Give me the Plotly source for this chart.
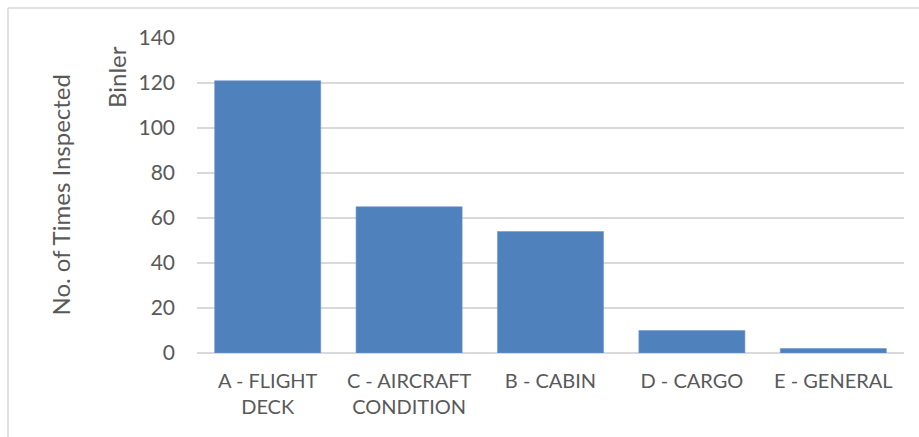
import plotly.graph_objects as go

categories = ["A - FLIGHT<br>DECK", "C - AIRCRAFT<br>CONDITION", "B - CABIN", "D - CARGO", "E - GENERAL"]
inspections = [121, 65, 54, 10, 2]
y_ticks = [0, 20, 40, 60, 80, 100, 120, 140]

W, H = 919, 437
L, R, T, B = 197, 15, 38, 84
pw, ph = W - L - R, H - T - B


def px_x(x):
    return (x - L) / pw


def px_y(y):
    return (H - B - y) / ph


text_color = "#595959"
font_family = "Lato, Calibri, Carlito, sans-serif"

fig = go.Figure(
    go.Bar(
        x=categories,
        y=inspections,
        marker=dict(color="#4F81BD", line=dict(color="#6E97CC", width=0.6)),
    )
)

fig.update_layout(
    width=W,
    height=H,
    margin=dict(l=L, r=R, t=T, b=B),
    paper_bgcolor="white",
    plot_bgcolor="white",
    bargap=0.25,
    showlegend=False,
    font=dict(family=font_family, size=20, color=text_color),
    xaxis=dict(
        showgrid=False,
        showline=False,
        ticks="",
        tickfont=dict(family=font_family, size=20, color=text_color),
        ticklabelstandoff=14,
    ),
    yaxis=dict(
        range=[0, 140],
        tickvals=y_ticks,
        showgrid=True,
        gridcolor="#D9D9D9",
        gridwidth=1.5,
        zeroline=True,
        zerolinecolor="#D9D9D9",
        zerolinewidth=1.5,
        showline=False,
        ticks="",
        tickfont=dict(family=font_family, size=21, color=text_color),
        ticklabelstandoff=21,
    ),
    annotations=[
        dict(
            text="No. of Times Inspected",
            xref="paper", yref="paper",
            x=px_x(60), y=0.5,
            textangle=-90, showarrow=False,
            font=dict(family=font_family, size=24, color=text_color),
            xanchor="center", yanchor="middle",
        ),
        dict(
            text="Binler",
            xref="paper", yref="paper",
            x=px_x(116), y=px_y(77),
            textangle=-90, showarrow=False,
            font=dict(family=font_family, size=24, color=text_color),
            xanchor="center", yanchor="middle",
        ),
    ],
    shapes=[
        dict(type="line", xref="paper", yref="paper",
             x0=px_x(8), x1=px_x(8), y0=px_y(437), y1=px_y(8),
             line=dict(color="#D9D9D9", width=1.5)),
        dict(type="line", xref="paper", yref="paper",
             x0=px_x(8), x1=px_x(919), y0=px_y(8), y1=px_y(8),
             line=dict(color="#D9D9D9", width=1.5)),
    ],
)

fig.write_html("out.html")
